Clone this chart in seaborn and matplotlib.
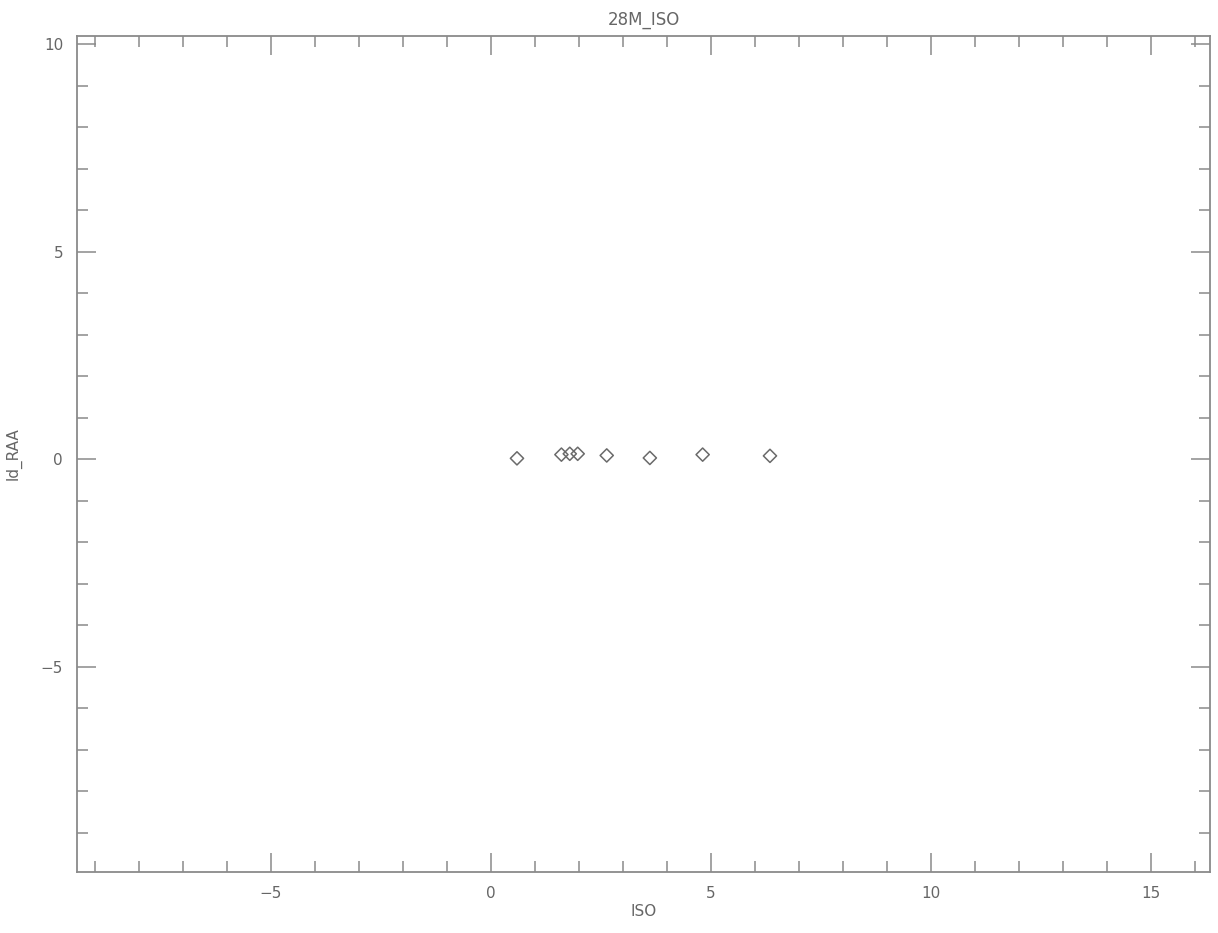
import pandas as pd
import matplotlib.pyplot as plt
import seaborn as sns
from matplotlib.ticker import MultipleLocator

# values
iso = [0.60, 1.61, 1.80, 1.98, 2.64, 3.62, 4.82, 6.35]
ld_raa = [0.02, 0.11, 0.13, 0.13, 0.09, 0.03, 0.11, 0.08]

df = pd.DataFrame({"ISO": iso, "ld_RAA": ld_raa})

sns.set_style("white")
plt.rcParams['font.family'] = ['DejaVu Sans']

line_c = "#8a8a8a"
text_c = "#666666"

fig = plt.figure(figsize=(12.18, 9.33), dpi=100)
ax = fig.add_axes([0.0632, 0.0654, 0.9302, 0.896])

sns.scatterplot(data=df, x="ISO", y="ld_RAA", ax=ax, marker="D", s=45,
                facecolor="none", edgecolor="#6a6a6a", linewidth=1.1)

ax.set_xlim(-9.4, 16.35)
ax.set_ylim(-9.95, 10.2)
ax.xaxis.set_major_locator(MultipleLocator(5))
ax.xaxis.set_minor_locator(MultipleLocator(1))
ax.yaxis.set_major_locator(MultipleLocator(5))
ax.yaxis.set_minor_locator(MultipleLocator(1))
ax.tick_params(which="both", direction="in", top=True, right=True,
               bottom=True, left=True,
               color=line_c, width=1.1, labelcolor=text_c, labelsize=11)
ax.tick_params(which="major", length=14, pad=10)
ax.tick_params(which="minor", length=8)
for sp in ax.spines.values():
    sp.set_color(line_c)
    sp.set_linewidth(1.3)

ax.set_xlabel("ISO", color=text_c, fontsize=11, labelpad=2)
ax.set_ylabel("ld_RAA", color=text_c, fontsize=11, labelpad=14)
ax.set_title("28M_ISO", color=text_c, fontsize=12, pad=8)

fig.savefig("out.png", dpi=100)
